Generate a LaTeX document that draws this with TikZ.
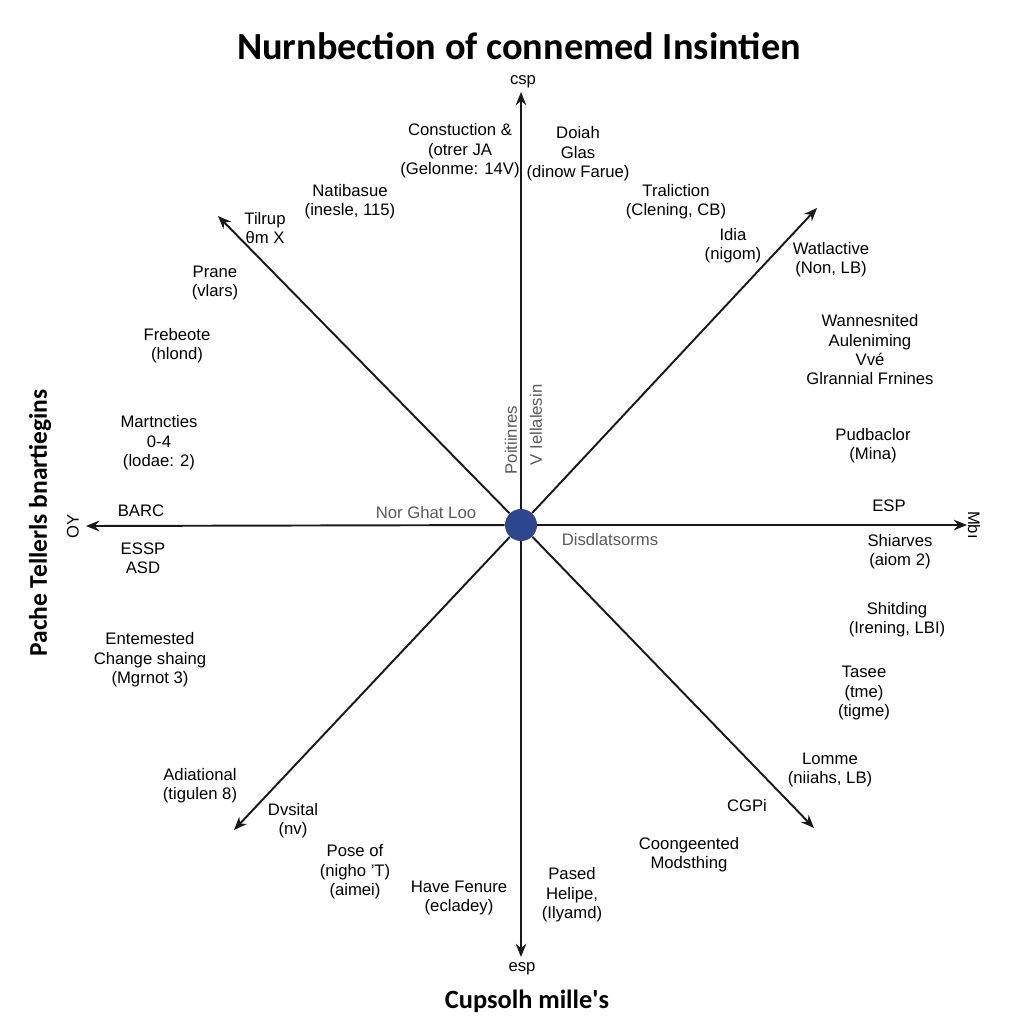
\documentclass[tikz,border=0pt]{standalone}
\usepackage{fontspec}
\setmainfont{Liberation Sans}
\newfontfamily\titlefont{Carlito}
\usetikzlibrary{arrows.meta}
\definecolor{dotblue}{HTML}{2C4690}
\definecolor{inkgrey}{HTML}{5A5A5A}

\begin{document}
\begin{tikzpicture}[x=0.02cm,y=-0.02cm,
  lbl/.style={align=center,font=\fontsize{9.5}{11}\selectfont,inner sep=0pt},
  greylbl/.style={lbl,text=inkgrey},
  axis/.style={line width=1.1pt,draw=black!90,-{Stealth[length=7.5pt,width=6pt]}}]
  \useasboundingbox[fill=white] (0,0) rectangle (1024,1024);
  %titles
  \node[font=\titlefont\bfseries\fontsize{21.8}{24}\selectfont,inner sep=0pt] (title) at (519,46) {Nurnbection of connemed Insintien};
  \node[font=\titlefont\bfseries\fontsize{15}{18}\selectfont,inner sep=0pt] (subtitle) at (527,1001) {Cupsolh mille's};
  \node[font=\titlefont\bfseries\fontsize{14.5}{18}\selectfont,inner sep=0pt,rotate=90] (side) at (40,523) {Pache Tellerls bnartiegins};
  %the hub and the ends of the eight arms
  \node[circle,fill=dotblue,minimum size=0.64cm,inner sep=0pt] (hub) at (521,525) {};
  \coordinate (n) at (521,92);
  \coordinate (s) at (521,957);
  \coordinate (w) at (86,526);
  \coordinate (e) at (967,525);
  \coordinate (nw) at (218,216);
  \coordinate (ne) at (817,208);
  \coordinate (sw) at (234,830);
  \coordinate (se) at (814,828);
  \foreach \tip in {n,s,w,e,nw,ne,sw,se}
    \draw[axis] (hub) -- (\tip);
  %labels at the tips
  \node[lbl] (csp) at (523,82) {csp};
  \node[lbl] (esp) at (522,969) {esp};
  \node[lbl,rotate=90] (oy) at (73,526) {OY};
  \node[lbl,rotate=-90] (mbi) at (974,525) {Mbı};
  %labels near the hub
  \node[greylbl] (norghat) at (426,513) {Nor Ghat Loo};
  \node[greylbl] (disd) at (610,540) {Disdlatsorms};
  \node[greylbl,rotate=90] (poit) at (511,440) {Poitiinres};
  \node[greylbl,rotate=90] (vtell) at (536,425) {V Iellalesin};
  %upper half
  \node[lbl] (constr) at (460,151) {Constuction \&\\(otrer JA\\(Gelonme: 14V)};
  \node[lbl] (doiah) at (578,154) {Doiah\\Glas\\(dinow Farue)};
  \node[lbl] (natib) at (350,202) {Natibasue\\(inesle, 115)};
  \node[lbl] (tilrup) at (265,228) {Tilrup\\θm X};
  \node[lbl] (tralic) at (676,202) {Traliction\\(Clening, CB)};
  \node[lbl] (idia) at (733,246) {Idia\\(nigom)};
  \node[lbl] (watl) at (831,260) {Watlactive\\(Non, LB)};
  \node[lbl] (prane) at (215,283) {Prane\\(vlars)};
  \node[lbl] (frebe) at (177,346) {Frebeote\\(hlond)};
  \node[lbl] (wann) at (870,350) {Wannesnited\\Auleniming\\Vvé\\Glrannial Frnines};
  \node[lbl] (pudb) at (873,446) {Pudbaclor\\(Mina)};
  \node[lbl] (mart) at (159,443) {Martncties\\0-4\\(lodae: 2)};
  %around the horizontal arm
  \node[lbl] (barc) at (141,511) {BARC};
  \node[lbl] (essp) at (143,558) {ESSP\\ASD};
  \node[lbl] (espr) at (889,506) {ESP};
  \node[lbl] (shia) at (900,552) {Shiarves\\(aiom 2)};
  %lower half
  \node[lbl] (entem) at (150,660) {Entemested\\Change shaing\\(Mgrnot 3)};
  \node[lbl] (shit) at (897,620) {Shitding\\(Irening, LBI)};
  \node[lbl] (tasee) at (864,693) {Tasee\\(tme)\\(tigme)};
  \node[lbl] (lomme) at (830,770) {Lomme\\(niiahs, LB)};
  \node[lbl] (cgp) at (747,806) {CGPi};
  \node[lbl] (adia) at (200,786) {Adiational\\(tigulen 8)};
  \node[lbl] (dvsi) at (293,821) {Dvsital\\(nv)};
  \node[lbl] (coong) at (689,855) {Coongeented\\Modsthing};
  \node[lbl] (pose) at (355,872) {Pose of\\(nigho 'T)\\(aimei)};
  \node[lbl] (havef) at (459,898) {Have Fenure\\(ecladey)};
  \node[lbl] (pased) at (572,895) {Pased\\Helipe,\\(Ilyamd)};
\end{tikzpicture}
\end{document}
